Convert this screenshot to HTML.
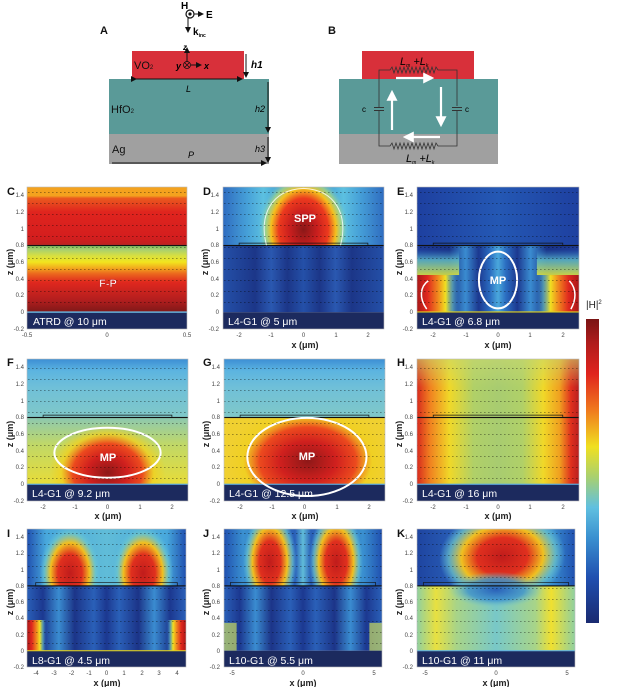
<!DOCTYPE html>
<html><head><meta charset="utf-8"><style>
html,body{margin:0;padding:0;background:#fff;}
svg{display:block;font-family:"Liberation Sans",Arial,sans-serif;}
.t{font-size:6px;fill:#444;}
.ax{font-size:9px;font-weight:bold;fill:#222;}
.let{font-size:11px;font-weight:bold;fill:#111;}
.lab{font-size:10.5px;fill:#fff;}
</style></head><body>
<svg width="640" height="687" viewBox="0 0 640 687" xmlns="http://www.w3.org/2000/svg">
<defs>
<pattern id="dots" width="4" height="11" patternUnits="userSpaceOnUse"><rect x="0" y="5" width="1.6" height="1" fill="#000"/></pattern>
<marker id="ah" markerWidth="6" markerHeight="6" refX="5" refY="3" orient="auto"><path d="M0,0 L6,3 L0,6z" fill="#111"/></marker>
<marker id="wh" markerWidth="5" markerHeight="5" refX="4" refY="2.5" orient="auto"><path d="M0,0 L5,2.5 L0,5z" fill="#fff"/></marker>
<linearGradient id="gC" x1="0" y1="0" x2="0" y2="1">
<stop offset="0" stop-color="#f4a21e"/><stop offset=".07" stop-color="#f4a21e"/><stop offset=".09" stop-color="#ea5a1e"/><stop offset=".2" stop-color="#e0241e"/><stop offset=".4" stop-color="#d41e1e"/><stop offset=".46" stop-color="#c02020"/><stop offset=".47" stop-color="#80c060"/><stop offset=".5" stop-color="#a8d070"/><stop offset=".55" stop-color="#d8e040"/><stop offset=".6" stop-color="#f2e41e"/><stop offset=".64" stop-color="#f2b21e"/><stop offset=".69" stop-color="#ec6a1e"/><stop offset=".76" stop-color="#e0281e"/><stop offset=".9" stop-color="#b41e1e"/><stop offset="1" stop-color="#7e1818"/></linearGradient>
<linearGradient id="dTop" x1="0" y1="0" x2="1" y2="0"><stop offset="0" stop-color="#2f6cc0"/><stop offset=".15" stop-color="#46a0d8"/><stop offset=".25" stop-color="#5cc0e0"/><stop offset=".4" stop-color="#3a90d0"/><stop offset=".6" stop-color="#3a90d0"/><stop offset=".75" stop-color="#5cc0e0"/><stop offset=".85" stop-color="#46a0d8"/><stop offset="1" stop-color="#2f6cc0"/></linearGradient>
<linearGradient id="dBot" x1="0" y1="0" x2="1" y2="0"><stop offset="0" stop-color="#2450a8"/><stop offset=".2" stop-color="#1c3688"/><stop offset=".3" stop-color="#2a58b0"/><stop offset=".4" stop-color="#1c3688"/><stop offset=".5" stop-color="#2450a8"/><stop offset=".6" stop-color="#1c3688"/><stop offset=".7" stop-color="#2a58b0"/><stop offset=".8" stop-color="#1c3688"/><stop offset="1" stop-color="#2450a8"/></linearGradient>
<radialGradient id="hot"><stop offset="0" stop-color="#8a1818"/><stop offset=".3" stop-color="#c81e1e"/><stop offset=".55" stop-color="#ec3a1e"/><stop offset=".72" stop-color="#f4c01e"/><stop offset=".85" stop-color="#a8d880" stop-opacity=".8"/><stop offset="1" stop-color="#60c0e0" stop-opacity="0"/></radialGradient>
<radialGradient id="hot2"><stop offset="0" stop-color="#8e1818"/><stop offset=".35" stop-color="#d0201e"/><stop offset=".6" stop-color="#ec4a1e"/><stop offset=".8" stop-color="#f0d020" stop-opacity=".8"/><stop offset="1" stop-color="#f0d020" stop-opacity="0"/></radialGradient>
<radialGradient id="hot3"><stop offset="0" stop-color="#c01c1c"/><stop offset=".4" stop-color="#e0301e"/><stop offset=".65" stop-color="#f0c020"/><stop offset=".85" stop-color="#70c8c8" stop-opacity=".7"/><stop offset="1" stop-color="#60c0e0" stop-opacity="0"/></radialGradient>
<linearGradient id="eTop" x1="0" y1="0" x2="1" y2="0"><stop offset="0" stop-color="#1e40a0"/><stop offset=".5" stop-color="#2458b4"/><stop offset="1" stop-color="#1e40a0"/></linearGradient>
<linearGradient id="eBot" x1="0" y1="0" x2="1" y2="0"><stop offset="0" stop-color="#1e3c98"/><stop offset=".2" stop-color="#1a3488"/><stop offset=".3" stop-color="#3a8cd0"/><stop offset=".38" stop-color="#1c3890"/><stop offset=".45" stop-color="#2a6cc0"/><stop offset=".5" stop-color="#4aa8dc"/><stop offset=".55" stop-color="#2a6cc0"/><stop offset=".62" stop-color="#1c3890"/><stop offset=".7" stop-color="#3a8cd0"/><stop offset=".8" stop-color="#1a3488"/><stop offset="1" stop-color="#1e3c98"/></linearGradient>
<linearGradient id="eL" x1="0" y1="0" x2="1" y2="0"><stop offset="0" stop-color="#a81818"/><stop offset=".25" stop-color="#e0281e"/><stop offset=".5" stop-color="#f08a1e"/><stop offset=".68" stop-color="#f0e020"/><stop offset=".85" stop-color="#70c8c0" stop-opacity=".6"/><stop offset="1" stop-color="#3a8cd0" stop-opacity="0"/></linearGradient>
<linearGradient id="eR" x1="1" y1="0" x2="0" y2="0"><stop offset="0" stop-color="#a81818"/><stop offset=".25" stop-color="#e0281e"/><stop offset=".5" stop-color="#f08a1e"/><stop offset=".68" stop-color="#f0e020"/><stop offset=".85" stop-color="#70c8c0" stop-opacity=".6"/><stop offset="1" stop-color="#3a8cd0" stop-opacity="0"/></linearGradient>
<linearGradient id="eV" x1="0" y1="0" x2="0" y2="1"><stop offset="0" stop-color="#3a8cd0" stop-opacity="0"/><stop offset=".4" stop-color="#60c0c8" stop-opacity=".8"/><stop offset="1" stop-color="#d8e040" stop-opacity=".9"/></linearGradient>
<linearGradient id="fTop" x1="0" y1="0" x2="0" y2="1"><stop offset="0" stop-color="#3c8ed4"/><stop offset=".2" stop-color="#5cb4e0"/><stop offset=".5" stop-color="#70c0d8"/><stop offset="1" stop-color="#80c8c8"/></linearGradient>
<linearGradient id="fBot" x1="0" y1="0" x2="0" y2="1"><stop offset="0" stop-color="#8cc8b0"/><stop offset=".4" stop-color="#c0d868"/><stop offset="1" stop-color="#e8dc38"/></linearGradient>
<linearGradient id="hBase" x1="0" y1="0" x2="1" y2="0"><stop offset="0" stop-color="#d82a1e"/><stop offset=".08" stop-color="#f08020"/><stop offset=".2" stop-color="#f0d828"/><stop offset=".35" stop-color="#b0d068"/><stop offset=".5" stop-color="#a8cc70"/><stop offset=".65" stop-color="#b0d068"/><stop offset=".78" stop-color="#f0d828"/><stop offset=".88" stop-color="#f0a020"/><stop offset=".95" stop-color="#e0301e"/><stop offset="1" stop-color="#b82020"/></linearGradient>
<linearGradient id="hTopF" x1="0" y1="0" x2="0" y2="1"><stop offset="0" stop-color="#c8d870" stop-opacity=".6"/><stop offset="1" stop-color="#c8d870" stop-opacity="0"/></linearGradient>
<linearGradient id="iTop" x1="0" y1="0" x2="1" y2="0"><stop offset="0" stop-color="#2050b0"/><stop offset=".12" stop-color="#48a8dc"/><stop offset=".5" stop-color="#60bcd8"/><stop offset=".88" stop-color="#48a8dc"/><stop offset="1" stop-color="#2050b0"/></linearGradient>
<linearGradient id="iBot" x1="0" y1="0" x2="1" y2="0"><stop offset="0" stop-color="#2a60b8"/><stop offset=".1" stop-color="#1c3890"/><stop offset=".2" stop-color="#3a8cd0"/><stop offset=".3" stop-color="#1c3488"/><stop offset=".42" stop-color="#2a60b8"/><stop offset=".5" stop-color="#1c3890"/><stop offset=".58" stop-color="#2a60b8"/><stop offset=".7" stop-color="#1c3488"/><stop offset=".8" stop-color="#3a8cd0"/><stop offset=".9" stop-color="#1c3890"/><stop offset="1" stop-color="#2a60b8"/></linearGradient>
<linearGradient id="jTop" x1="0" y1="0" x2="1" y2="0"><stop offset="0" stop-color="#2050b0"/><stop offset=".12" stop-color="#3a90d0"/><stop offset=".45" stop-color="#2a60b8"/><stop offset=".5" stop-color="#60bcd8"/><stop offset=".55" stop-color="#2a60b8"/><stop offset=".88" stop-color="#3a90d0"/><stop offset="1" stop-color="#2050b0"/></linearGradient>
<linearGradient id="kTop" x1="0" y1="0" x2="1" y2="0"><stop offset="0" stop-color="#1e44a0"/><stop offset=".25" stop-color="#2a60b8"/><stop offset=".85" stop-color="#3a90d0"/><stop offset="1" stop-color="#2050b0"/></linearGradient>
<linearGradient id="kBot" x1="0" y1="0" x2="1" y2="0"><stop offset="0" stop-color="#90d0a0"/><stop offset=".12" stop-color="#e8e040"/><stop offset=".25" stop-color="#a8d488"/><stop offset=".5" stop-color="#78c8c8"/><stop offset=".75" stop-color="#a8d488"/><stop offset=".85" stop-color="#f0e030"/><stop offset="1" stop-color="#90d0a0"/></linearGradient>
<radialGradient id="blueb"><stop offset="0" stop-color="#2a60b8"/><stop offset=".6" stop-color="#3a90d0" stop-opacity=".8"/><stop offset="1" stop-color="#78c8c8" stop-opacity="0"/></radialGradient>
<linearGradient id="cb" x1="0" y1="0" x2="0" y2="1"><stop offset="0" stop-color="#7a1414"/><stop offset=".08" stop-color="#b01c1c"/><stop offset=".18" stop-color="#e0241e"/><stop offset=".3" stop-color="#f07a1e"/><stop offset=".42" stop-color="#f0e020"/><stop offset=".52" stop-color="#a8d070"/><stop offset=".62" stop-color="#60c0e0"/><stop offset=".72" stop-color="#3a90d0"/><stop offset=".85" stop-color="#2050b0"/><stop offset="1" stop-color="#1a2a70"/></linearGradient>
</defs>

<!-- ===== Diagram A ===== -->
<text class="let" x="100" y="34">A</text>
<rect x="109" y="79" width="160" height="55" fill="#5a9a98"/>
<rect x="109" y="134" width="160" height="30" fill="#a0a0a0"/>
<rect x="132" y="51" width="112" height="28" fill="#d8303a"/>
<circle cx="190" cy="14" r="4" fill="none" stroke="#111" stroke-width="1.2"/><circle cx="190" cy="14" r="1.6" fill="#111"/>
<text x="181" y="9" font-size="10" font-weight="bold">H</text>
<line x1="194" y1="14" x2="203" y2="14" stroke="#111" stroke-width="1" marker-end="url(#ah)"/>
<text x="206" y="18" font-size="10" font-weight="bold">E</text>
<line x1="188" y1="18" x2="188" y2="32" stroke="#111" stroke-width="1" marker-end="url(#ah)"/>
<text x="193" y="35" font-size="10" font-weight="bold">k<tspan font-size="5" dy="2">inc</tspan></text>
<line x1="187" y1="62" x2="187" y2="48" stroke="#111" stroke-width="1" marker-end="url(#ah)"/>
<text x="183" y="50" font-size="8" font-weight="bold" font-style="italic">z</text>
<circle cx="187" cy="65" r="3.5" fill="none" stroke="#111" stroke-width=".8"/><path d="M184.5,62.5 l5,5 M189.5,62.5 l-5,5" stroke="#111" stroke-width=".8"/>
<line x1="191" y1="65" x2="201" y2="65" stroke="#111" stroke-width="1" marker-end="url(#ah)"/>
<text x="176" y="69" font-size="9" font-weight="bold" font-style="italic">y</text>
<text x="204" y="69" font-size="9" font-weight="bold" font-style="italic">x</text>
<text x="134" y="69" font-size="11" fill="#111">VO<tspan font-size="6">2</tspan></text>
<text x="111" y="113" font-size="11" fill="#111">HfO<tspan font-size="6">2</tspan></text>
<text x="112" y="153" font-size="11" fill="#111">Ag</text>
<line x1="136" y1="79" x2="242" y2="79" stroke="#111" stroke-width="1" marker-start="url(#ah)" marker-end="url(#ah)"/>
<text x="186" y="92" font-size="9" font-style="italic">L</text>
<line x1="246" y1="54" x2="246" y2="77" stroke="#111" stroke-width="1" marker-end="url(#ah)"/>
<text x="251" y="68" font-size="10" font-weight="bold" font-style="italic">h1</text>
<line x1="268" y1="82" x2="268" y2="132" stroke="#111" stroke-width="1" marker-end="url(#ah)"/>
<text x="255" y="112" font-size="9" font-style="italic">h2</text>
<line x1="268" y1="137" x2="268" y2="162" stroke="#111" stroke-width="1" marker-end="url(#ah)"/>
<text x="255" y="152" font-size="9" font-style="italic">h3</text>
<line x1="112" y1="163" x2="266" y2="163" stroke="#111" stroke-width="1" marker-end="url(#ah)"/>
<text x="188" y="158" font-size="9" font-style="italic">P</text>

<!-- ===== Diagram B ===== -->
<text class="let" x="328" y="34">B</text>
<rect x="339" y="79" width="159" height="55" fill="#5a9a98"/>
<rect x="339" y="134" width="159" height="30" fill="#a0a0a0"/>
<rect x="362" y="51" width="112" height="28" fill="#d8303a"/>
<path d="M379,108 V70 H390 l2,-3 l2,6 l2,-6 l2,6 l2,-6 l2,6 l2,-6 l2,6 l2,-6 l2,6 l2,-6 l2,6 l2,-6 l2,6 l2,-6 l2,6 l2,-6 l2,6 l2,-6 l2,6 l2,-6 l2,6 l2,-6 l2,3 H457 V106" fill="none" stroke="#333" stroke-width=".8"/>
<path d="M379,111 V146 H390 l2,-3 l2,6 l2,-6 l2,6 l2,-6 l2,6 l2,-6 l2,6 l2,-6 l2,6 l2,-6 l2,6 l2,-6 l2,6 l2,-6 l2,6 l2,-6 l2,6 l2,-6 l2,6 l2,-6 l2,6 l2,-6 l2,3 H457 V111" fill="none" stroke="#333" stroke-width=".8"/>
<path d="M374,107.5 h10 M374,110.5 h10 M452,107.5 h10 M452,110.5 h10" stroke="#333" stroke-width="1"/>
<text x="362" y="112" font-size="8">c</text><text x="465" y="112" font-size="8">c</text>
<text x="400" y="65" font-size="11" font-style="italic">L<tspan font-size="5" dy="2">m</tspan><tspan dy="-2"> +L</tspan><tspan font-size="5" dy="2">k</tspan></text>
<text x="406" y="162" font-size="11" font-style="italic">L<tspan font-size="5" dy="2">m</tspan><tspan dy="-2"> +L</tspan><tspan font-size="5" dy="2">k</tspan></text>
<g stroke="#fff" stroke-width="2.2"><line x1="396" y1="78" x2="432" y2="78" marker-end="url(#wh)"/><line x1="441" y1="87" x2="441" y2="125" marker-end="url(#wh)"/><line x1="440" y1="137" x2="405" y2="137" marker-end="url(#wh)"/><line x1="392" y1="130" x2="392" y2="92" marker-end="url(#wh)"/></g>

<!-- ===== Panel C ===== -->
<svg x="27" y="187" width="160" height="142" viewBox="0 0 100 100" preserveAspectRatio="none">
<rect x="0" y="0" width="100" height="88.2" fill="url(#gC)"/>
<rect x="0" y="88.2" width="100" height="11.8" fill="#1c2a5e"/>
<rect x="0" y="87.6" width="100" height="1" fill="#6ab8e0"/>
<rect x="0" y="40.8" width="100" height=".8" fill="#111"/>
</svg>
<!-- ===== Panel D ===== -->
<svg x="223" y="187" width="161" height="142" viewBox="0 0 100 100" preserveAspectRatio="none">
<rect x="0" y="0" width="100" height="41.2" fill="url(#dTop)"/>
<ellipse cx="50" cy="30" rx="28" ry="40" fill="url(#hot)"/>
<rect x="0" y="41.2" width="100" height="47" fill="url(#dBot)"/>
<rect x="0" y="88.2" width="100" height="11.8" fill="#1c2a5e"/>
<rect x="0" y="40.8" width="100" height=".8" fill="#111"/>
<rect x="10" y="39.5" width="80" height="1.8" fill="none" stroke="#111" stroke-width=".7" vector-effect="non-scaling-stroke"/>
<path d="M27,41 C22,20 30,2 50,1 C70,2 78,20 73,41" fill="none" stroke="#fff" stroke-opacity=".8" stroke-width="1" vector-effect="non-scaling-stroke"/>
</svg>
<!-- ===== Panel E ===== -->
<svg x="417" y="187" width="162" height="142" viewBox="0 0 100 100" preserveAspectRatio="none">
<rect x="0" y="0" width="100" height="41.2" fill="url(#eTop)"/>
<rect x="0" y="41.2" width="100" height="47" fill="url(#eBot)"/>
<rect x="0" y="44" width="26" height="18" fill="url(#eV)"/>
<rect x="74" y="44" width="26" height="18" fill="url(#eV)"/>
<rect x="0" y="62" width="26" height="26.2" fill="url(#eL)"/>
<rect x="74" y="62" width="26" height="26.2" fill="url(#eR)"/>
<rect x="0" y="88.2" width="100" height="11.8" fill="#1c2a5e"/>
<rect x="0" y="87.6" width="100" height=".8" fill="#e0d020"/>
<rect x="0" y="40.8" width="100" height=".8" fill="#111"/>
<rect x="10" y="39.5" width="80" height="1.8" fill="none" stroke="#111" stroke-width=".7" vector-effect="non-scaling-stroke"/>
<ellipse cx="50" cy="65.5" rx="11.8" ry="20" fill="none" stroke="#fff" stroke-width="2" vector-effect="non-scaling-stroke"/>
<path d="M6,86 C1,78 2,70 7,66" fill="none" stroke="#fff" stroke-width="1.5" vector-effect="non-scaling-stroke"/>
<path d="M94,66 C99,72 98,80 95,86" fill="none" stroke="#fff" stroke-width="1.5" vector-effect="non-scaling-stroke"/>
</svg>
<!-- ===== Panel F ===== -->
<svg x="27" y="359" width="161" height="142" viewBox="0 0 100 100" preserveAspectRatio="none">
<rect x="0" y="0" width="100" height="41.2" fill="url(#fTop)"/>
<rect x="0" y="41.2" width="100" height="47" fill="url(#fBot)"/>
<ellipse cx="50" cy="80" rx="36" ry="34" fill="url(#hot2)"/>
<rect x="0" y="0" width="100" height="41.2" fill="url(#fTop)"/>
<rect x="0" y="88.2" width="100" height="11.8" fill="#1c2a5e"/>
<rect x="0" y="87.8" width="100" height=".8" fill="#60b0e0"/>
<rect x="0" y="40.8" width="100" height=".8" fill="#111"/>
<rect x="10" y="39.5" width="80" height="1.8" fill="none" stroke="#111" stroke-width=".7" vector-effect="non-scaling-stroke"/>
<ellipse cx="50" cy="66" rx="33" ry="17.6" fill="none" stroke="#fff" stroke-width="2" vector-effect="non-scaling-stroke"/>
</svg>
<!-- ===== Panel G ===== -->
<svg x="224" y="359" width="161" height="142" viewBox="0 0 100 100" preserveAspectRatio="none">
<rect x="0" y="0" width="100" height="41.2" fill="url(#fTop)"/>
<rect x="0" y="41.2" width="100" height="47" fill="#f0d030"/>
<ellipse cx="52" cy="72" rx="50" ry="40" fill="url(#hot2)"/>
<rect x="0" y="0" width="100" height="41.2" fill="url(#fTop)"/>
<rect x="0" y="88.2" width="100" height="11.8" fill="#1c2a5e"/>
<rect x="0" y="87.8" width="100" height=".8" fill="#60b0e0"/>
<rect x="0" y="40.8" width="100" height=".8" fill="#111"/>
<rect x="10" y="39.5" width="80" height="1.8" fill="none" stroke="#111" stroke-width=".7" vector-effect="non-scaling-stroke"/>
<ellipse cx="51.5" cy="69" rx="37" ry="27.5" fill="none" stroke="#fff" stroke-width="2" vector-effect="non-scaling-stroke"/>
</svg>
<!-- ===== Panel H ===== -->
<svg x="417" y="359" width="162" height="142" viewBox="0 0 100 100" preserveAspectRatio="none">
<rect x="0" y="0" width="100" height="88.2" fill="url(#hBase)"/>
<rect x="0" y="0" width="100" height="20" fill="url(#hTopF)"/>
<rect x="0" y="88.2" width="100" height="11.8" fill="#1c2a5e"/>
<rect x="0" y="87.8" width="100" height=".8" fill="#60b0e0"/>
<rect x="0" y="40.8" width="100" height=".8" fill="#111"/>
<rect x="10" y="39.5" width="80" height="1.8" fill="none" stroke="#111" stroke-width=".7" vector-effect="non-scaling-stroke"/>
</svg>
<!-- ===== Panel I ===== -->
<svg x="27" y="529" width="159" height="138" viewBox="0 0 100 100" preserveAspectRatio="none">
<rect x="0" y="0" width="100" height="41.2" fill="url(#iTop)"/>
<ellipse cx="27" cy="32" rx="19" ry="34" fill="url(#hot3)"/>
<ellipse cx="73" cy="32" rx="19" ry="34" fill="url(#hot3)"/>
<rect x="0" y="41.2" width="100" height="47" fill="url(#iBot)"/>
<rect x="0" y="66" width="12" height="22.2" fill="url(#eL)"/>
<rect x="88" y="66" width="12" height="22.2" fill="url(#eR)"/>
<rect x="0" y="88.2" width="100" height="11.8" fill="#1c2a5e"/>
<rect x="0" y="87.8" width="100" height=".8" fill="#e0d020"/>
<rect x="0" y="40.8" width="100" height=".8" fill="#111"/>
<rect x="5.5" y="38.8" width="89" height="2.4" fill="none" stroke="#111" stroke-width=".7" vector-effect="non-scaling-stroke"/>
</svg>
<!-- ===== Panel J ===== -->
<svg x="224" y="529" width="158" height="138" viewBox="0 0 100 100" preserveAspectRatio="none">
<rect x="0" y="0" width="100" height="41.2" fill="url(#jTop)"/>
<ellipse cx="29" cy="24" rx="17" ry="38" fill="url(#hot3)"/>
<ellipse cx="71" cy="24" rx="17" ry="38" fill="url(#hot3)"/>
<rect x="0" y="41.2" width="100" height="47" fill="url(#iBot)"/>
<rect x="0" y="68" width="8" height="20.2" fill="#c8d860" opacity=".7"/>
<rect x="92" y="68" width="8" height="20.2" fill="#c8d860" opacity=".7"/>
<rect x="0" y="88.2" width="100" height="11.8" fill="#1c2a5e"/>
<rect x="0" y="40.8" width="100" height=".8" fill="#111"/>
<rect x="4" y="38.8" width="92" height="2.4" fill="none" stroke="#111" stroke-width=".7" vector-effect="non-scaling-stroke"/>
</svg>
<!-- ===== Panel K ===== -->
<svg x="417" y="529" width="158" height="138" viewBox="0 0 100 100" preserveAspectRatio="none">
<rect x="0" y="0" width="100" height="41.2" fill="url(#kTop)"/>
<ellipse cx="54" cy="20" rx="40" ry="34" fill="url(#hot3)" transform="rotate(-8 54 20)"/>
<rect x="0" y="41.2" width="100" height="47" fill="url(#kBot)"/>
<ellipse cx="50" cy="44" rx="30" ry="13" fill="url(#blueb)"/>
<rect x="0" y="88.2" width="100" height="11.8" fill="#1c2a5e"/>
<rect x="0" y="87.8" width="100" height=".8" fill="#60b0e0"/>
<rect x="0" y="40.8" width="100" height=".8" fill="#111"/>
<rect x="4" y="38.8" width="92" height="2.4" fill="none" stroke="#111" stroke-width=".7" vector-effect="non-scaling-stroke"/>
</svg>

<!-- dotted field lines -->
<g opacity=".35">
<rect x="27" y="189" width="160" height="122" fill="url(#dots)"/>
<rect x="223" y="189" width="161" height="122" fill="url(#dots)"/>
<rect x="417" y="189" width="162" height="122" fill="url(#dots)"/>
<rect x="27" y="361" width="161" height="122" fill="url(#dots)"/>
<rect x="224" y="361" width="161" height="122" fill="url(#dots)"/>
<rect x="417" y="361" width="162" height="122" fill="url(#dots)"/>
<rect x="27" y="531" width="159" height="119" fill="url(#dots)"/>
<rect x="224" y="531" width="158" height="119" fill="url(#dots)"/>
<rect x="417" y="531" width="158" height="119" fill="url(#dots)"/>
</g>
<g fill="none" stroke="#bbb" stroke-width=".6">
<rect x="27" y="187" width="160" height="142"/><rect x="223" y="187" width="161" height="142"/><rect x="417" y="187" width="162" height="142"/>
<rect x="27" y="359" width="161" height="142"/><rect x="224" y="359" width="161" height="142"/><rect x="417" y="359" width="162" height="142"/>
<rect x="27" y="529" width="159" height="138"/><rect x="224" y="529" width="158" height="138"/><rect x="417" y="529" width="158" height="138"/>
</g>

<!-- in-panel labels -->
<text class="lab" x="33" y="325">ATRD @ 10 μm</text>
<text class="lab" x="228" y="325">L4-G1 @ 5 μm</text>
<text class="lab" x="422" y="325">L4-G1 @ 6.8 μm</text>
<text class="lab" x="32" y="497">L4-G1 @ 9.2 μm</text>
<text class="lab" x="229" y="497">L4-G1 @ 12.5 μm</text>
<text class="lab" x="422" y="497">L4-G1 @ 16 μm</text>
<text class="lab" x="32" y="664">L8-G1 @ 4.5 μm</text>
<text class="lab" x="229" y="664">L10-G1 @ 5.5 μm</text>
<text class="lab" x="422" y="664">L10-G1 @ 11 μm</text>
<g font-weight="bold" fill="#fff" text-anchor="middle" font-size="11">
<text x="108" y="287" stroke="#c02020" stroke-width=".5">F-P</text>
<text x="305" y="222">SPP</text>
<text x="498" y="284">MP</text>
<text x="108" y="461">MP</text>
<text x="307" y="460">MP</text>
</g>

<!-- panel letters -->
<text class="let" x="7" y="195">C</text><text class="let" x="203" y="195">D</text><text class="let" x="397" y="195">E</text>
<text class="let" x="7" y="366">F</text><text class="let" x="203" y="366">G</text><text class="let" x="397" y="366">H</text>
<text class="let" x="7" y="537">I</text><text class="let" x="203" y="537">J</text><text class="let" x="397" y="537">K</text>

<!-- z ticks -->
<g class="t" text-anchor="end">
<g transform="translate(24,187)"><text y="10">1.4</text><text y="27">1.2</text><text y="44">1</text><text y="60">0.8</text><text y="77">0.6</text><text y="94">0.4</text><text y="110">0.2</text><text y="127">0</text><text y="144">-0.2</text></g>
<g transform="translate(219,187)"><text y="10">1.4</text><text y="27">1.2</text><text y="44">1</text><text y="60">0.8</text><text y="77">0.6</text><text y="94">0.4</text><text y="110">0.2</text><text y="127">0</text><text y="144">-0.2</text></g>
<g transform="translate(413,187)"><text y="10">1.4</text><text y="27">1.2</text><text y="44">1</text><text y="60">0.8</text><text y="77">0.6</text><text y="94">0.4</text><text y="110">0.2</text><text y="127">0</text><text y="144">-0.2</text></g>
<g transform="translate(24,359)"><text y="10">1.4</text><text y="27">1.2</text><text y="44">1</text><text y="60">0.8</text><text y="77">0.6</text><text y="94">0.4</text><text y="110">0.2</text><text y="127">0</text><text y="144">-0.2</text></g>
<g transform="translate(220,359)"><text y="10">1.4</text><text y="27">1.2</text><text y="44">1</text><text y="60">0.8</text><text y="77">0.6</text><text y="94">0.4</text><text y="110">0.2</text><text y="127">0</text><text y="144">-0.2</text></g>
<g transform="translate(413,359)"><text y="10">1.4</text><text y="27">1.2</text><text y="44">1</text><text y="60">0.8</text><text y="77">0.6</text><text y="94">0.4</text><text y="110">0.2</text><text y="127">0</text><text y="144">-0.2</text></g>
<g transform="translate(24,529)"><text y="10">1.4</text><text y="26">1.2</text><text y="43">1</text><text y="59">0.8</text><text y="75">0.6</text><text y="91">0.4</text><text y="108">0.2</text><text y="124">0</text><text y="140">-0.2</text></g>
<g transform="translate(220,529)"><text y="10">1.4</text><text y="26">1.2</text><text y="43">1</text><text y="59">0.8</text><text y="75">0.6</text><text y="91">0.4</text><text y="108">0.2</text><text y="124">0</text><text y="140">-0.2</text></g>
<g transform="translate(413,529)"><text y="10">1.4</text><text y="26">1.2</text><text y="43">1</text><text y="59">0.8</text><text y="75">0.6</text><text y="91">0.4</text><text y="108">0.2</text><text y="124">0</text><text y="140">-0.2</text></g>
</g>
<!-- z labels -->
<g class="ax" text-anchor="middle">
<text transform="translate(13,262) rotate(-90)">z (μm)</text>
<text transform="translate(208,262) rotate(-90)">z (μm)</text>
<text transform="translate(402,262) rotate(-90)">z (μm)</text>
<text transform="translate(13,434) rotate(-90)">z (μm)</text>
<text transform="translate(209,434) rotate(-90)">z (μm)</text>
<text transform="translate(402,434) rotate(-90)">z (μm)</text>
<text transform="translate(13,602) rotate(-90)">z (μm)</text>
<text transform="translate(209,602) rotate(-90)">z (μm)</text>
<text transform="translate(402,602) rotate(-90)">z (μm)</text>
</g>
<!-- x ticks -->
<g class="t" text-anchor="middle">
<text x="27" y="337">-0.5</text><text x="107" y="337">0</text><text x="187" y="337">0.5</text>
<text x="239" y="337">-2</text><text x="271" y="337">-1</text><text x="303.5" y="337">0</text><text x="336" y="337">1</text><text x="368" y="337">2</text>
<text x="433" y="337">-2</text><text x="466" y="337">-1</text><text x="498" y="337">0</text><text x="530" y="337">1</text><text x="563" y="337">2</text>
<text x="43" y="509">-2</text><text x="75" y="509">-1</text><text x="107.5" y="509">0</text><text x="140" y="509">1</text><text x="172" y="509">2</text>
<text x="240" y="509">-2</text><text x="272" y="509">-1</text><text x="304.5" y="509">0</text><text x="337" y="509">1</text><text x="369" y="509">2</text>
<text x="433" y="509">-2</text><text x="466" y="509">-1</text><text x="498" y="509">0</text><text x="530" y="509">1</text><text x="563" y="509">2</text>
<text x="36" y="675">-4</text><text x="54" y="675">-3</text><text x="71.5" y="675">-2</text><text x="89" y="675">-1</text><text x="106.5" y="675">0</text><text x="124" y="675">1</text><text x="142" y="675">2</text><text x="159" y="675">3</text><text x="177" y="675">4</text>
<text x="232" y="675">-5</text><text x="303" y="675">0</text><text x="374" y="675">5</text>
<text x="425" y="675">-5</text><text x="496" y="675">0</text><text x="567" y="675">5</text>
</g>
<g class="ax" text-anchor="middle">
<text x="305" y="348">x (μm)</text><text x="498" y="348">x (μm)</text>
<text x="108" y="519">x (μm)</text><text x="305" y="519">x (μm)</text><text x="498" y="519">x (μm)</text>
<text x="107" y="686">x (μm)</text><text x="303" y="686">x (μm)</text><text x="496" y="686">x (μm)</text>
</g>

<!-- colorbar -->
<rect x="586" y="319" width="13" height="304" fill="url(#cb)"/>
<text x="586" y="308" font-size="10" fill="#222">|H|<tspan font-size="6" dy="-4">2</tspan></text>
</svg>
</body></html>
